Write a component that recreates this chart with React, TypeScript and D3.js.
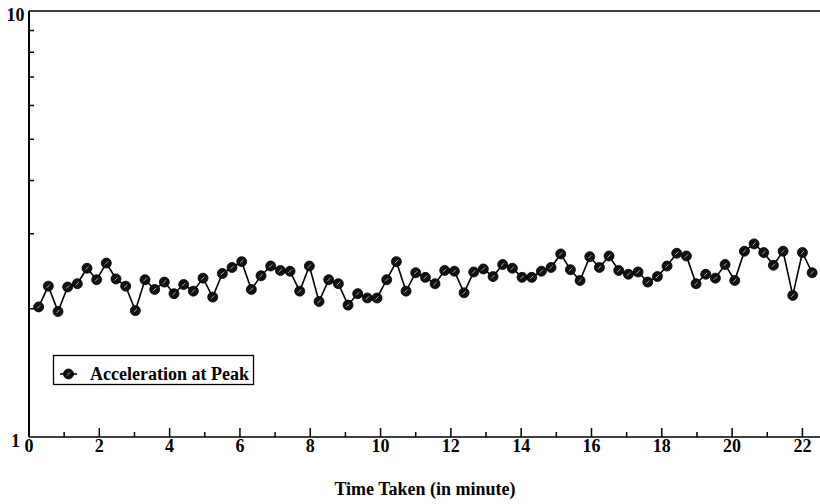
import React from "react";
import * as d3 from "d3";

// Sample times (minutes) and measured acceleration at peak
const times = [
  0.275, 0.55, 0.825, 1.1, 1.375, 1.65, 1.925, 2.2, 2.475, 2.75,
  3.025, 3.3, 3.575, 3.85, 4.125, 4.4, 4.675, 4.95, 5.225, 5.5,
  5.775, 6.05, 6.325, 6.6, 6.875, 7.15, 7.425, 7.7, 7.975, 8.25,
  8.525, 8.8, 9.075, 9.35, 9.625, 9.9, 10.175, 10.45, 10.725, 11.0,
  11.275, 11.55, 11.825, 12.1, 12.375, 12.65, 12.925, 13.2, 13.475, 13.75,
  14.025, 14.3, 14.575, 14.85, 15.125, 15.4, 15.675, 15.95, 16.225, 16.5,
  16.775, 17.05, 17.325, 17.6, 17.875, 18.15, 18.425, 18.7, 18.975, 19.25,
  19.525, 19.8, 20.075, 20.35, 20.625, 20.9, 21.175, 21.45, 21.725, 22.0,
  22.275,
];

const acceleration = [
  2.02, 2.26, 1.97, 2.25, 2.29, 2.49, 2.34, 2.56, 2.35, 2.26,
  1.98, 2.34, 2.22, 2.31, 2.17, 2.28, 2.2, 2.36, 2.13, 2.42,
  2.5, 2.58, 2.22, 2.39, 2.52, 2.46, 2.45, 2.2, 2.52, 2.08,
  2.34, 2.29, 2.04, 2.17, 2.12, 2.12, 2.34, 2.58, 2.2, 2.43,
  2.37, 2.29, 2.46, 2.45, 2.18, 2.44, 2.48, 2.38, 2.54, 2.49,
  2.37, 2.37, 2.45, 2.5, 2.69, 2.47, 2.33, 2.65, 2.5, 2.66,
  2.46, 2.41, 2.44, 2.31, 2.38, 2.52, 2.7, 2.66, 2.29, 2.41,
  2.36, 2.54, 2.33, 2.73, 2.84, 2.71, 2.53, 2.73, 2.15, 2.71,
  2.43,
];

const xTickLabels = [0, 2, 4, 6, 8, 10, 12, 14, 16, 18, 20, 22];
const xMinorTicks = [1, 3, 5, 7, 9, 11, 13, 15, 17, 19, 21];
const yTickLabels = [1, 10];
const yMinorTicks = [2, 3, 4, 5, 6, 7, 8, 9];

const seriesName = "Acceleration at Peak";
const xTitle = "Time Taken (in minute)";

const W = 820;
const H = 504;
const left = 29;
const right = 820;
const top = 11;
const bottom = 437;

const FONT = "'Liberation Serif', 'Times New Roman', serif";
const FS = 18;

function Marker({ cx, cy }: { cx: number; cy: number }) {
  return (
    <g transform={`translate(${cx},${cy})`}>
      <circle r={5} fill="#111" stroke="#000" strokeWidth={0.8} />
      <line x1={-1.6} y1={1.6} x2={1.6} y2={-1.6} stroke="#bbb" strokeWidth={0.9} />
    </g>
  );
}

export default function App() {
  const x = d3.scaleLinear().domain([0, 22.5]).range([left, right]);
  const y = d3.scaleLog().domain([1, 10]).range([bottom, top]);

  const points = times.map((t, i) => ({ t, v: acceleration[i] }));
  const line = d3
    .line<{ t: number; v: number }>()
    .x((d) => x(d.t))
    .y((d) => y(d.v));

  return (
    <svg
      width={W}
      height={H}
      style={{ position: "absolute", left: 0, top: 0, background: "#fff" }}
      fontFamily={FONT}
    >
      <rect width={W} height={H} fill="#fff" />

      {/* axes frame */}
      <line x1={left} y1={top} x2={right} y2={top} stroke="#000" strokeWidth={1.5} />
      <line x1={left} y1={top} x2={left} y2={bottom} stroke="#000" strokeWidth={2} />
      <line x1={left} y1={bottom} x2={right} y2={bottom} stroke="#000" strokeWidth={1.5} />

      {/* y ticks (inward) */}
      {yMinorTicks.map((v) => (
        <line key={`ym${v}`} x1={left} x2={left + 5} y1={y(v)} y2={y(v)} stroke="#000" strokeWidth={1.5} />
      ))}
      {yTickLabels.map((v) => (
        <text
          key={`yl${v}`}
          x={15.5}
          y={y(v) + 4}
          textAnchor="middle"
          dominantBaseline="central"
          fontSize={FS}
          fontWeight="bold"
        >
          {v}
        </text>
      ))}

      {/* x ticks (inward) */}
      {xTickLabels.map((v) => (
        <g key={`xt${v}`}>
          {v > 0 && (
            <line x1={x(v)} x2={x(v)} y1={bottom} y2={bottom - 9} stroke="#000" strokeWidth={1.5} />
          )}
          <text x={x(v)} y={452} textAnchor="middle" fontSize={FS} fontWeight="bold">
            {v}
          </text>
        </g>
      ))}
      {xMinorTicks.map((v) => (
        <line key={`xm${v}`} x1={x(v)} x2={x(v)} y1={bottom} y2={bottom - 5} stroke="#000" strokeWidth={1.5} />
      ))}

      <text x={425} y={495} textAnchor="middle" fontSize={FS} fontWeight="bold">
        {xTitle}
      </text>

      {/* series */}
      <path d={line(points) ?? ""} fill="none" stroke="#000" strokeWidth={1.6} />
      {points.map((p, i) => (
        <Marker key={i} cx={x(p.t)} cy={y(p.v)} />
      ))}

      {/* legend */}
      <rect x={53.5} y={355.5} width={200} height={29} fill="#fff" stroke="#000" strokeWidth={1.3} />
      <line x1={60} x2={77} y1={374} y2={374} stroke="#000" strokeWidth={1.6} />
      <Marker cx={68.5} cy={374} />
      <text x={90} y={380} fontSize={FS} fontWeight="bold">
        {seriesName}
      </text>
    </svg>
  );
}
